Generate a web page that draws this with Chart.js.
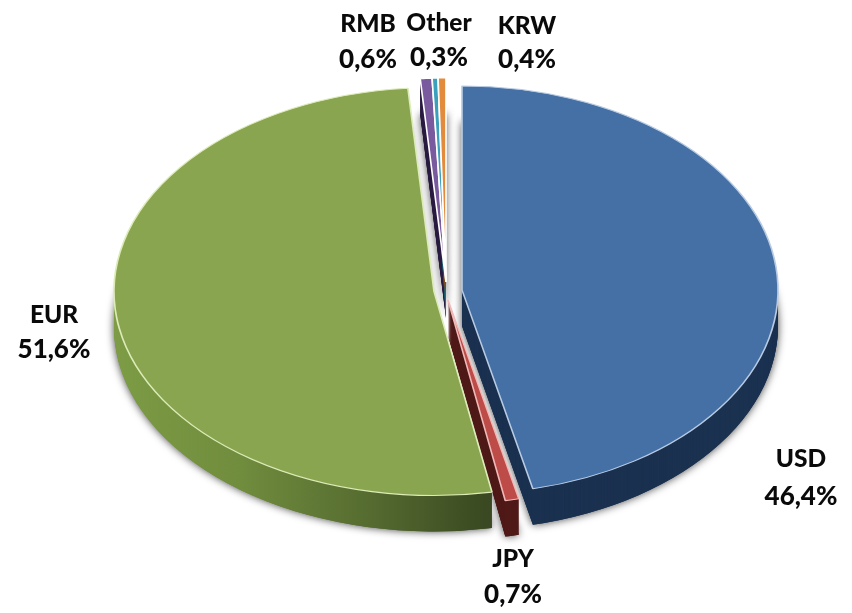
<!DOCTYPE html>
<html>
<head>
<meta charset="utf-8">
<style>html,body{margin:0;padding:0;background:#fff}canvas{display:block}</style>
<script src="https://cdn.jsdelivr.net/npm/chart.js@4"></script>
</head>
<body>
<canvas id="c" width="852" height="613"></canvas>
<script>
const categories = ["USD", "JPY", "EUR", "RMB", "Other", "KRW"];
const shares = [46.4, 0.7, 51.6, 0.6, 0.3, 0.4];

const topColors = ["#4470a5", "#bd4b48", "#8aa54f", "#7a5a9f", "#3ba0bb", "#e28b3c"];
const sideColors = ["#1b3150", "#4f1a18", null, "#2a1d40", "#1d5a6c", "#8a5220"];
const edgeColors = ["#b9cbe3", "#efb9b7", "#dcebb8", "#ffffff", "#ffffff", "#ffffff"];
const greenStops = [[0, "#7d9c45"], [0.2, "#708c3d"], [0.4, "#556b30"], [0.58, "#3a4921"], [1, "#3a4921"]];

// exploded placement of each slice on the tilted plane: [cx, cy, rx, ry]
const placement = [
  [462, 290, 316, 204],
  [448, 300, 316, 204],
  [434, 291.5, 320, 204],
  [446, 282, 316, 204],
  [446, 282, 316, 204],
  [446, 282, 316, 204]
];
const depth = 36;
const drawOrder = [3, 4, 5, 2, 0, 1];
const labelPos = [[801, 459, 497], [513, 559, 595], [54, 315, 350], [368, 24, 60], [439, 23, 58], [527, 26, 60]];

function enter(ctx, arc, p, dy) {
  const R = arc.outerRadius;
  ctx.translate(p[0], p[1] + dy);
  ctx.scale(p[2] / R, p[3] / R);
  ctx.translate(-arc.x, -arc.y);
}
function sideFill(ctx, arc, i) {
  if (sideColors[i]) return sideColors[i];
  const R = arc.outerRadius;
  const g = ctx.createLinearGradient(arc.x - R, 0, arc.x + R, 0);
  greenStops.forEach(s => g.addColorStop(s[0], s[1]));
  return g;
}
function paint(ctx, arc, over) {
  const keep = arc.options;
  const o = Object.create(keep);
  Object.assign(o, over);
  arc.options = o;
  arc.draw(ctx);
  arc.options = keep;
}

const pie3d = {
  id: "pie3d",
  beforeDatasetsDraw(chart) {
    const ctx = chart.ctx;
    const arcs = chart.getDatasetMeta(0).data;
    // soft shadow from the base of every extruded slice
    drawOrder.forEach(i => {
      ctx.save();
      ctx.shadowColor = "rgba(0,0,0,0.75)";
      ctx.shadowBlur = 8;
      enter(ctx, arcs[i], placement[i], depth);
      paint(ctx, arcs[i], { backgroundColor: sideFill(ctx, arcs[i], i), borderWidth: 0 });
      ctx.restore();
    });
    // extruded sides
    drawOrder.forEach(i => {
      for (let d = depth; d >= 1; d--) {
        ctx.save();
        enter(ctx, arcs[i], placement[i], d);
        paint(ctx, arcs[i], { backgroundColor: sideFill(ctx, arcs[i], i), borderWidth: 0 });
        ctx.restore();
      }
    });
    // top faces
    drawOrder.forEach(i => {
      ctx.save();
      enter(ctx, arcs[i], placement[i], 0);
      paint(ctx, arcs[i], {});
      ctx.restore();
    });
    return false;
  },
  afterDraw(chart) {
    const ctx = chart.ctx;
    ctx.save();
    ctx.fillStyle = "#0a0a0a";
    ctx.textAlign = "center";
    ctx.textBaseline = "middle";
    categories.forEach((name, i) => {
      const p = labelPos[i];
      ctx.font = "900 24.5px Lato, 'Open Sans', sans-serif";
      ctx.fillText(name, p[0], p[1]);
      ctx.font = "900 26px Lato, 'Open Sans', sans-serif";
      ctx.fillText(shares[i].toFixed(1).replace(".", ",") + "%", p[0], p[2]);
    });
    ctx.restore();
  }
};

new Chart(document.getElementById("c"), {
  type: "pie",
  data: {
    labels: categories,
    datasets: [{
      data: shares,
      backgroundColor: topColors,
      borderColor: edgeColors,
      borderWidth: 1.6,
      borderAlign: "center"
    }]
  },
  options: {
    responsive: false,
    devicePixelRatio: 1,
    animation: false,
    rotation: 0,
    layout: { padding: 0 },
    plugins: { legend: { display: false }, tooltip: { enabled: false } }
  },
  plugins: [pie3d]
});
</script>
</body>
</html>
